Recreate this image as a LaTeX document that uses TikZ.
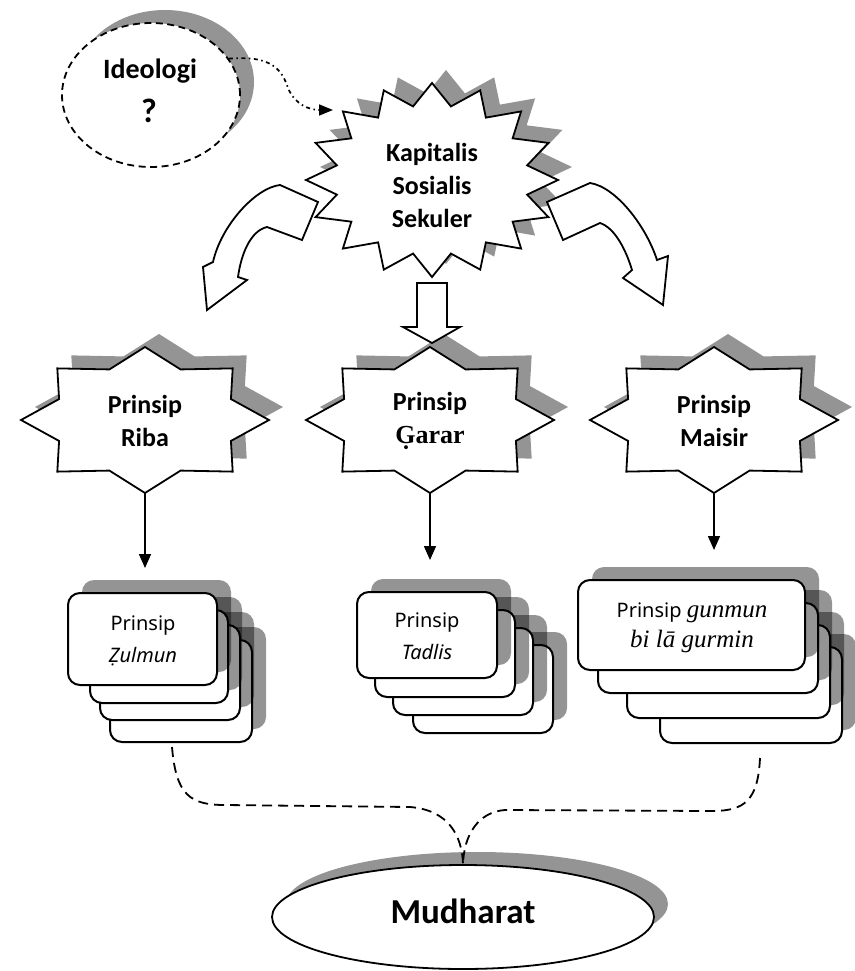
\documentclass[tikz,border=0pt]{standalone}
\usepackage{fontspec}
\setmainfont{Carlito}
\newfontfamily\cardfont{Noto Sans}
\newfontfamily\translitfont{Liberation Serif}
\usetikzlibrary{arrows.meta,shapes.geometric}

\tikzset{
  dropshadow/.style={fill=black,fill opacity=0.42,draw=none},
  shapeline/.style={draw=black,line width=1.8pt,fill=white,line join=miter},
  cardline/.style={draw=black,line width=2pt,fill=white,rounded corners=12pt},
  boldlabel/.style={font=\bfseries\fontsize{26}{33}\selectfont,align=center,inner sep=0pt},
  cardlabel/.style={font=\cardfont\fontsize{20}{32}\selectfont,align=center,inner sep=0pt},
  flow/.style={line width=1.5pt,-{Triangle[length=14pt,width=12pt]}},
  merge/.style={line width=1.8pt,dash pattern=on 10pt off 6pt},
  % sixteen-point burst
  burst/.pic={\path[pic actions] (0:126 and 97)
      \foreach \a in {0,22.5,...,337.5}{ -- (\a:126 and 97) -- (\a+11.25:97 and 75)} -- cycle;},
  % eight-point star
  octagram/.pic={\path[pic actions] (0:124 and 73)
      \foreach \a in {0,45,...,315}{ -- (\a:124 and 73) -- (\a+22.5:93 and 54.75)} -- cycle;},
}

% one card of a stack: shadow first, then the card
\newcommand\card[4]{%
  \fill[dropshadow,rounded corners=12pt] ({#1+14},{#2-13}) rectangle ({#3+14},{#4-13});
  \draw[cardline] (#1,#2) rectangle (#3,#4);}

\begin{document}
\begin{tikzpicture}[x=1pt,y=-1pt]
\useasboundingbox (0,0) rectangle (854,971);

% ---- Ideologi ----
\fill[dropshadow] (165,82) ellipse [x radius=89, y radius=72];
\node[ellipse,draw,fill=white,line width=1.8pt,dash pattern=on 7pt off 4.5pt,
      minimum width=178pt,minimum height=144pt,inner sep=0pt] (ideo) at (151,95) {};
\node[boldlabel,font=\bfseries\fontsize{28}{33}\selectfont] (ideoname) at (150,71) {Ideologi};
\node[boldlabel,font=\bfseries\fontsize{34}{36}\selectfont] (ideoq) at (149,111) {?};

% ---- central burst ----
\pic[dropshadow] at (446,167) {burst};

% curved block arrows leaving the burst
\draw[shapeline] (318,202) -- (280,185)
  .. controls (255,188) and (221,226) .. (213,262) -- (203,267) -- (207,310)
  -- (247,280) -- (238,277) .. controls (241,255) and (250,231) .. (267,227)
  -- (302,240) -- cycle;
\draw[shapeline] (547,202) -- (590,183)
  .. controls (616,187) and (646,226) .. (657,260) -- (668,256) -- (663,305)
  -- (623,278) -- (632,270) .. controls (626,250) and (615,228) .. (600,223)
  -- (563,240) -- cycle;

\pic[shapeline] at (432,180) {burst};
\node[boldlabel] (ideol) at (432,185) {Kapitalis\\Sosialis\\Sekuler};
\coordinate (kin) at (333,110);

\draw[line width=1.7pt,dash pattern=on 4pt off 3.5pt on 1.5pt off 3.5pt,
      -{Triangle[length=14pt,width=11pt]}]
  (ideo.25) .. controls (272,55) and (282,70) .. (288,88)
  .. controls (295,105) and (310,110) .. (kin);

% ---- three principles ----
\foreach \cx in {145,430,714}{
  \pic[dropshadow] at (\cx+14,407) {octagram};
  \pic[shapeline] at (\cx,420) {octagram};
}
\node[boldlabel] (riba) at (145,421) {Prinsip\\Riba};
\node[boldlabel] (garar) at (430,421) {Prinsip\\{\translitfont\bfseries G̣arar}};
\node[boldlabel] (maisir) at (714,421) {Prinsip\\Maisir};
\coordinate (ribab) at (145,493);
\coordinate (gararb) at (430,493);
\coordinate (maisirb) at (714,493);

% straight block arrow down
\draw[shapeline] (417,283) -- (447,283) -- (447,327) -- (460,327) -- (432,343)
  -- (403,327) -- (417,327) -- cycle;

% ---- stacks ----
\card{110}{640}{252}{742}
\card{100}{625}{240}{720}
\card{90}{610}{228}{703}
\card{68}{593}{217}{685}
\node[cardlabel] (zulmun) at (143,641) {Prinsip\\\itshape Ẓulmun};

\card{413}{645}{553}{733}
\card{393}{628}{533}{715}
\card{375}{610}{515}{697}
\card{357}{592}{497}{678}
\node[cardlabel] (tadlis) at (427,636) {Prinsip\\\itshape Tadlis};

\card{660}{647}{842}{743}
\card{627}{625}{830}{718}
\card{598}{603}{818}{693}
\card{578}{580}{805}{670}
\node[cardlabel,font=\cardfont\fontsize{20}{30}\selectfont] (gunmun) at (692,628)
  {Prinsip {\translitfont\itshape\fontsize{25}{30}\selectfont gunmun}\\
   {\translitfont\itshape\fontsize{25}{30}\selectfont bi lā gurmin}};

\coordinate (zulin) at (145,568);
\coordinate (tadin) at (430,560);
\coordinate (gunin) at (714,550);
\draw[flow] (ribab) -- (zulin);
\draw[flow] (gararb) -- (tadin);
\draw[flow] (maisirb) -- (gunin);

% ---- Mudharat ----
\fill[dropshadow] (477,904) ellipse [x radius=191, y radius=52];
\node[ellipse,draw,fill=white,line width=1.8pt,minimum width=382pt,minimum height=104pt,
      inner sep=0pt] (mud) at (463,917) {};
\node[font=\bfseries\fontsize{35}{40}\selectfont,inner sep=0pt] (mudtext) at (463,911) {Mudharat};

\coordinate (zulout) at (172,747);
\coordinate (gunout) at (760,758);
\draw[merge] (zulout) .. controls (176,795) and (190,805) .. (225,805) -- (410,807)
  .. controls (448,810) and (462,835) .. (mud.north);
\draw[merge] (gunout) .. controls (758,800) and (745,811) .. (712,811) -- (505,810)
  .. controls (478,812) and (464,835) .. (mud.north);
\end{tikzpicture}
\end{document}
